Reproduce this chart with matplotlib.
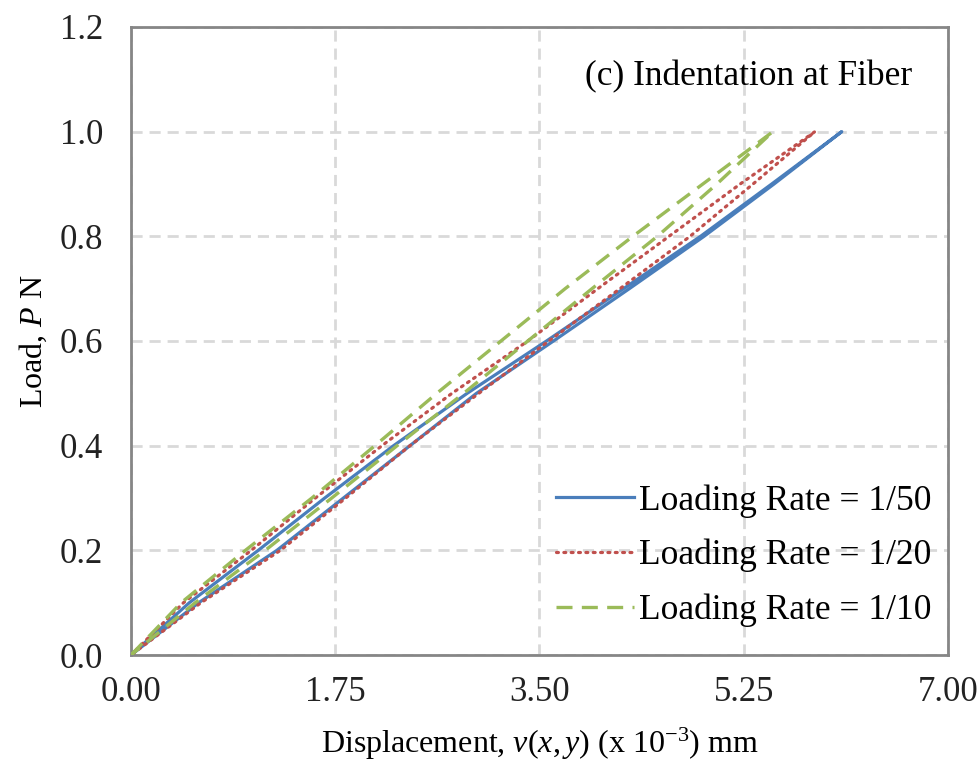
import numpy as np
import matplotlib
matplotlib.use("Agg")
import matplotlib.pyplot as plt

plt.rcParams['font.family'] = ['Liberation Serif', 'DejaVu Serif']
plt.rcParams['mathtext.fontset'] = 'custom'
plt.rcParams['mathtext.rm'] = 'Liberation Serif'
plt.rcParams['mathtext.it'] = 'Liberation Serif:italic'

# load steps (N) and displacement on the two branches of each loop (x 10^-3 mm)
load = [0.0, 0.1, 0.2, 0.3, 0.4, 0.5, 0.6, 0.7, 0.8, 0.9, 1.0]

disp_50_a = [0.0, 0.50, 1.09, 1.66, 2.25, 2.88, 3.56, 4.22, 4.88, 5.49, 6.09]
disp_50_b = [0.0, 0.58, 1.25, 1.82, 2.39, 2.96, 3.62, 4.27, 4.91, 5.51, 6.09]
disp_20_a = [0.0, 0.45, 1.03, 1.58, 2.15, 2.75, 3.40, 4.00, 4.61, 5.22, 5.86]
disp_20_b = [0.0, 0.60, 1.28, 1.84, 2.39, 2.98, 3.58, 4.19, 4.79, 5.33, 5.86]
disp_10_a = [0.0, 0.43, 0.98, 1.55, 2.09, 2.62, 3.17, 3.72, 4.30, 4.90, 5.50]
disp_10_b = [0.0, 0.55, 1.15, 1.72, 2.28, 2.85, 3.40, 3.95, 4.51, 5.02, 5.50]

labels = ['Loading Rate = 1/50', 'Loading Rate = 1/20', 'Loading Rate = 1/10']
xticks = [0.0, 1.75, 3.5, 5.25, 7.0]
yticks = [0.0, 0.2, 0.4, 0.6, 0.8, 1.0, 1.2]


def loop(a, b):
    # up along one branch, back down along the other
    x = list(a) + list(b[::-1])
    y = list(load) + list(load[::-1])
    return x, y


fig = plt.figure(figsize=(9.8, 7.62), dpi=100)
ax = fig.add_axes([0.1337, 0.1404, 0.8336, 0.8242])

x, y = loop(disp_50_a, disp_50_b)
ax.plot(x, y, color='#4A7EBB', lw=2.3, solid_joinstyle='round', label=labels[0], zorder=3)
x, y = loop(disp_20_a, disp_20_b)
ax.plot(x, y, color='#C0504D', lw=2.3, linestyle=(0, (0.6, 1.7)),
        dash_capstyle='round', label=labels[1], zorder=4)
x, y = loop(disp_10_a, disp_10_b)
ax.plot(x, y, color='#9BBB59', lw=2.4, linestyle=(0, (4.8, 2.8)), label=labels[2], zorder=5)

ax.set_xlim(0, 7)
ax.set_ylim(0, 1.2)
ax.set_xticks(xticks)
ax.set_yticks(yticks)
ax.set_xticklabels(['%.2f' % v for v in xticks])
ax.set_yticklabels(['%.1f' % v for v in yticks])
ax.tick_params(length=0, labelsize=25, colors='#222222')
ax.tick_params(axis='x', pad=15)
ax.tick_params(axis='y', pad=20)

ax.grid(True, color='#D9D9D9', lw=2, linestyle=(0, (4, 2.5)))
ax.set_axisbelow(True)
for s in ax.spines.values():
    s.set_color('#868686')
    s.set_linewidth(2)

ax.set_xlabel(r'Displacement, $v(x,y)$ (x 10$^{\mathrm{-3}}$) mm', fontsize=23, labelpad=12)
ax.set_ylabel(r'Load, $P$ N', fontsize=23, labelpad=8)

ax.text(0.956, 0.92, '(c) Indentation at Fiber', transform=ax.transAxes,
        ha='right', va='center', fontsize=25.5)

ax.legend(loc='lower right', frameon=False, fontsize=25.5, handlelength=2.2,
          handletextpad=0.15, labelspacing=0.6, borderaxespad=0.3,
          bbox_to_anchor=(1.01, 0.005))

fig.savefig('out.png', dpi=100)
